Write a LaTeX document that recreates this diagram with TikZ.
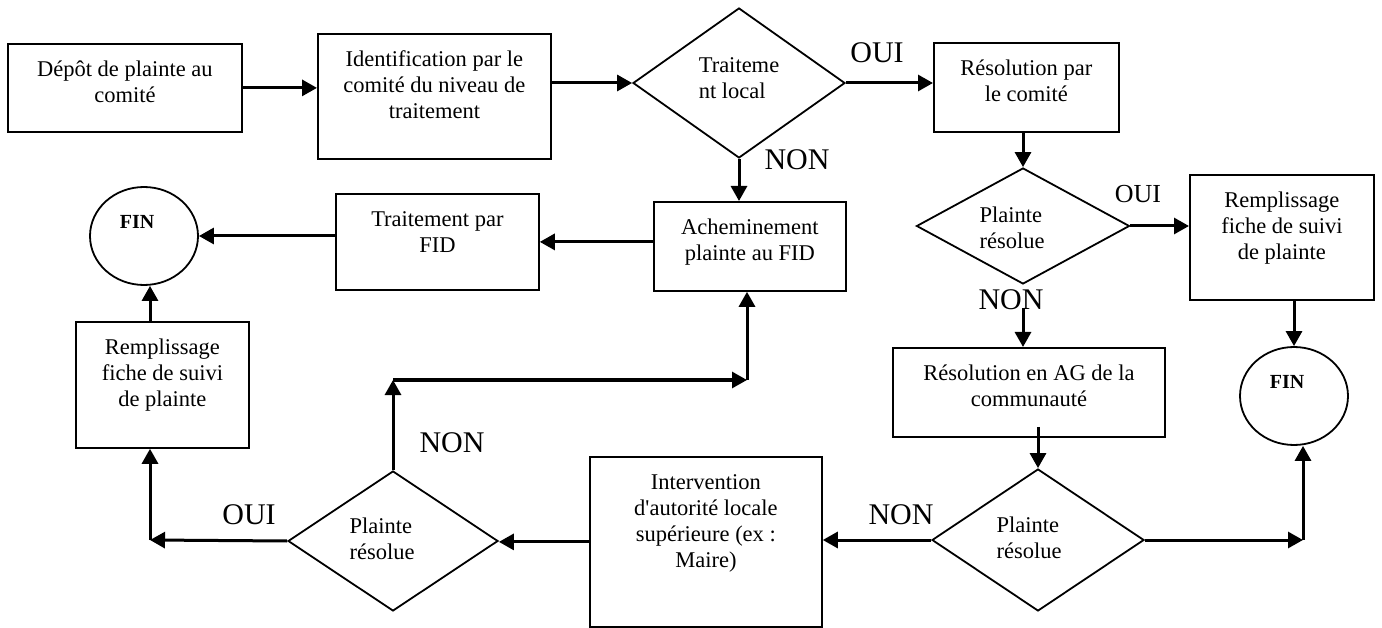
\documentclass[tikz,border=0pt]{standalone}
\usepackage{fontspec}
\setmainfont{Liberation Serif}
\usetikzlibrary{shapes.geometric,arrows.meta}

% text of a process box: fixed size, centred lines hanging from the top
\newcommand\boxtext[3]{\parbox[c][#2pt][t]{#1pt}{\centering\vspace*{14pt}\strut#3\par}}
% text set off from the centre of its node (horizontal shift is half of #1)
\newcommand\offtext[3]{\makebox[0pt]{\hspace{#1}\raisebox{#2}[0pt][0pt]{#3}}}
\newcommand\twolines[2]{\begin{tabular}{@{}l@{}}#1\\#2\end{tabular}}

\begin{document}
\begin{tikzpicture}[x=1pt,y=-1pt,
  txt/.style={font=\fontsize{22.5}{26}\selectfont},
  box/.style={txt, draw, line width=1.8pt, inner sep=0pt, anchor=north west},
  dec/.style={txt, draw, diamond, line width=1.8pt, inner sep=0pt},
  term/.style={draw, ellipse, line width=1.8pt, inner sep=0pt,
    minimum width=108pt, minimum height=98pt,
    font=\fontsize{20}{24}\selectfont\bfseries},
  lab/.style={font=\fontsize{30}{34}\selectfont, inner sep=0pt},
  arr/.style={line width=3pt, -{Triangle[length=15pt,width=16pt]}},
]
\useasboundingbox (0,0) rectangle (1382,628);

% process boxes
\node[box] (dep) at (7,43) {\boxtext{234}{88}{Dépôt de plainte au\\comité}};
\node[box] (ident) at (317,33) {\boxtext{233}{125}{Identification par le\\comité du niveau de\\traitement}};
\node[box] (rcom) at (933,42) {\boxtext{185}{89}{Résolution par\\le comité}};
\node[box] (fiche1) at (1189,174) {\boxtext{184}{125}{Remplissage\\fiche de suivi\\de plainte}};
\node[box] (ag) at (892,347) {\boxtext{272}{89}{Résolution en AG de la\\communauté}};
\node[box] (maire) at (589,456) {\boxtext{232}{170}{Intervention\\d\textquotesingle autorité locale\\supérieure (ex :\\Maire)}};
\node[box] (fiche2) at (75,321) {\boxtext{173}{126}{Remplissage\\fiche de suivi\\de plainte}};
\node[box] (fid) at (335,193) {\boxtext{203}{96}{Traitement par\\FID}};
\node[box] (ach) at (653,201) {\boxtext{192}{89}{Acheminement\\plainte au FID}};

% decisions
\node[dec, minimum width=212pt, minimum height=150pt] (loc) at (739,83)
  {\offtext{0pt}{-2pt}{\twolines{Traiteme}{nt local}}};
\node[dec, minimum width=213pt, minimum height=116pt] (res1) at (1023,226)
  {\offtext{-22pt}{-9.5pt}{\twolines{Plainte}{résolue}}};
\node[dec, minimum width=212pt, minimum height=142pt] (res2) at (1038,540)
  {\offtext{-18pt}{-5.5pt}{\twolines{Plainte}{résolue}}};
\node[dec, minimum width=210pt, minimum height=140pt] (res3) at (393,541)
  {\offtext{-22pt}{-5.5pt}{\twolines{Plainte}{résolue}}};

% end points
\node[term] (fin1) at (1294,396) {\offtext{-14pt}{7.4pt}{FIN}};
\node[term] (fin2) at (144,236) {\offtext{-14pt}{7.4pt}{FIN}};

% branch labels
\node[lab] (oui1) at (877,53) {OUI};
\node[lab] (non1) at (797,160) {NON};
\node[lab, font=\fontsize{26}{30}\selectfont] (oui2) at (1138,194) {OUI};
\node[lab] (non2) at (1011,300) {NON};
\node[lab] (non3) at (901,515) {NON};
\node[lab] (non4) at (452,443) {NON};
\node[lab] (oui3) at (249,515) {OUI};

% corners of the bent connectors
\coordinate (k1) at (1303,540);
\coordinate (k2) at (150,540);
\coordinate (k3) at (393,380);
\coordinate (k4) at (747,380);

% connectors
\draw[arr] (dep.east) -- (dep.east -| ident.west);
\draw[arr] (ident.east |- loc.west) -- (loc.west);
\draw[arr] (loc.east) -- (loc.east -| rcom.west);
\draw[arr] (rcom.south -| res1.north) -- (res1.north);
\draw[arr] (res1.east) -- (res1.east -| fiche1.west);
\draw[arr] (fin1.north |- fiche1.south) -- (fin1.north);
\draw[arr, shorten <=23pt] (res1.south) -- (res1.south |- ag.north);
\draw[arr, shorten <=-11pt] (res2.north |- ag.south) -- (res2.north);
\draw[arr] (res2.east) -- (k1);
\draw[arr] (k1) -- (k1 |- fin1.south);
\draw[arr] (res2.west) -- (res2.west -| maire.east);
\draw[arr] (maire.west) -- (maire.west -| res3.east);
\draw[arr] (res3.west) -- (k2);
\draw[arr] (k2) -- (k2 |- fiche2.south);
\draw[arr] (k2 |- fiche2.north) -- (k2 |- fin2.south);
\draw[arr] (res3.north) -- (k3);
\draw[arr] (k3) -- (k4);
\draw[arr] (k4) -- (k4 |- ach.south);
\draw[arr] (loc.south) -- (loc.south |- ach.north);
\draw[arr] (ach.west |- fid.east) -- (fid.east);
\draw[arr] (fid.west |- fin2.east) -- (fin2.east);
\end{tikzpicture}
\end{document}
